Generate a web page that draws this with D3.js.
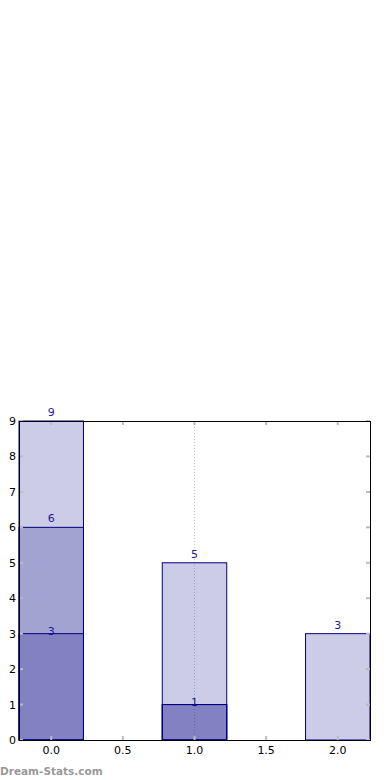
<!DOCTYPE html>
<html>
<head>
<meta charset="utf-8">
<script src="https://cdn.jsdelivr.net/npm/d3@7"></script>
<style>
  body { margin: 0; background: #fff; }
  svg { display: block; font-family: "DejaVu Sans", sans-serif; }
</style>
</head>
<body>
<svg id="plot"></svg>
<script>
const plotWidth = 390
const plotHeight = 780

// bar positions and the three overlapping series (0 = no bar)
const positions = [0, 1, 2];
const seriesA = [9, 5, 3];
const seriesB = [6, 1, 0];
const seriesC = [3, 1, 0];
const xTicks = [0.0, 0.5, 1.0, 1.5, 2.0];
const yTicks = [0, 1, 2, 3, 4, 5, 6, 7, 8, 9];

const margin = { left: 19, right: 20, top: 421, bottom: 40 };
const barWidth = 0.45;

var svg_plot = d3.select('#plot')
    .attr('width', plotWidth)
    .attr('height', plotHeight);

var xScale = d3.scaleLinear()
    .domain([-0.225, 2.225])
    .range([margin.left, plotWidth - margin.right]);

var yScale = d3.scaleLinear()
    .domain([0, 9])
    .range([plotHeight - margin.bottom, margin.top]);

var boxes = [];
// label offset differs per series (last series sits on the bar edge)
[seriesA, seriesB, seriesC].forEach(function (s, k) {
    s.forEach(function (v, i) {
        if (v > 0) boxes.push({ x: positions[i], v: v, dy: k == 2 ? 1 : -5 });
    });
});

// identical values at one position share a single label (last one wins)
var labels = Array.from(d3.rollup(boxes, g => g[g.length - 1], d => d.x + '_' + d.v).values());

svg_plot.selectAll('rect.bar')
    .data(boxes)
    .enter()
    .append('rect')
    .attr('class', 'bar')
    .attr('x', d => xScale(d.x - barWidth / 2))
    .attr('y', d => yScale(d.v))
    .attr('width', d => xScale(d.x + barWidth / 2) - xScale(d.x - barWidth / 2))
    .attr('height', d => yScale(0) - yScale(d.v))
    .attr('fill', 'rgba(0,0,128,0.2)')
    .attr('stroke', '#000080')
    .attr('stroke-width', 1);

// value labels
svg_plot.selectAll('text.lbl')
    .data(labels)
    .enter()
    .append('text')
    .attr('class', 'lbl')
    .attr('x', d => xScale(d.x))
    .attr('y', d => yScale(d.v) + d.dy)
    .attr('text-anchor', 'middle')
    .attr('font-size', 11)
    .attr('fill', '#1a1a99')
    .text(d => d.v);

// dotted marker at x = 1
svg_plot.append('line')
    .attr('x1', xScale(1)).attr('x2', xScale(1))
    .attr('y1', yScale(9)).attr('y2', yScale(0))
    .attr('stroke', 'rgba(0,0,0,0.22)')
    .attr('stroke-width', 1)
    .attr('stroke-dasharray', '1,2');

// tick marks on all four sides
const tickLen = 4;
var x0 = xScale.range()[0], x1 = xScale.range()[1];
var y0 = yScale.range()[0], y1 = yScale.range()[1];
var ticks = svg_plot.append('g').attr('stroke', '#bbb').attr('stroke-width', 2);
xTicks.forEach(function (t) {
    ticks.append('line').attr('x1', xScale(t)).attr('x2', xScale(t)).attr('y1', y0).attr('y2', y0 - tickLen);
    ticks.append('line').attr('x1', xScale(t)).attr('x2', xScale(t)).attr('y1', y1).attr('y2', y1 + tickLen);
});
yTicks.forEach(function (t) {
    ticks.append('line').attr('x1', x0).attr('x2', x0 + tickLen).attr('y1', yScale(t)).attr('y2', yScale(t));
    ticks.append('line').attr('x1', x1).attr('x2', x1 - tickLen).attr('y1', yScale(t)).attr('y2', yScale(t));
});

// frame
svg_plot.append('rect')
    .attr('x', x0 + 0.5).attr('y', y1 + 0.5)
    .attr('width', x1 - x0).attr('height', y0 - y1)
    .attr('fill', 'none')
    .attr('stroke', '#000')
    .attr('stroke-width', 1);

// tick labels
svg_plot.append('g').selectAll('text')
    .data(xTicks)
    .enter()
    .append('text')
    .attr('x', d => xScale(d))
    .attr('y', y0 + 14)
    .attr('text-anchor', 'middle')
    .attr('font-size', 11)
    .attr('fill', '#000')
    .text(d => d3.format('.1f')(d));

svg_plot.append('g').selectAll('text')
    .data(yTicks)
    .enter()
    .append('text')
    .attr('x', x0 - 3)
    .attr('y', d => yScale(d) + 4)
    .attr('text-anchor', 'end')
    .attr('font-size', 11)
    .attr('fill', '#000')
    .text(d => d);

// watermark
svg_plot.append('text')
    .attr('x', 0)
    .attr('y', 775)
    .attr('font-size', 10.5)
    .attr('font-weight', 'bold')
    .attr('fill', '#999')
    .text('Dream-Stats.com');
</script>
</body>
</html>
